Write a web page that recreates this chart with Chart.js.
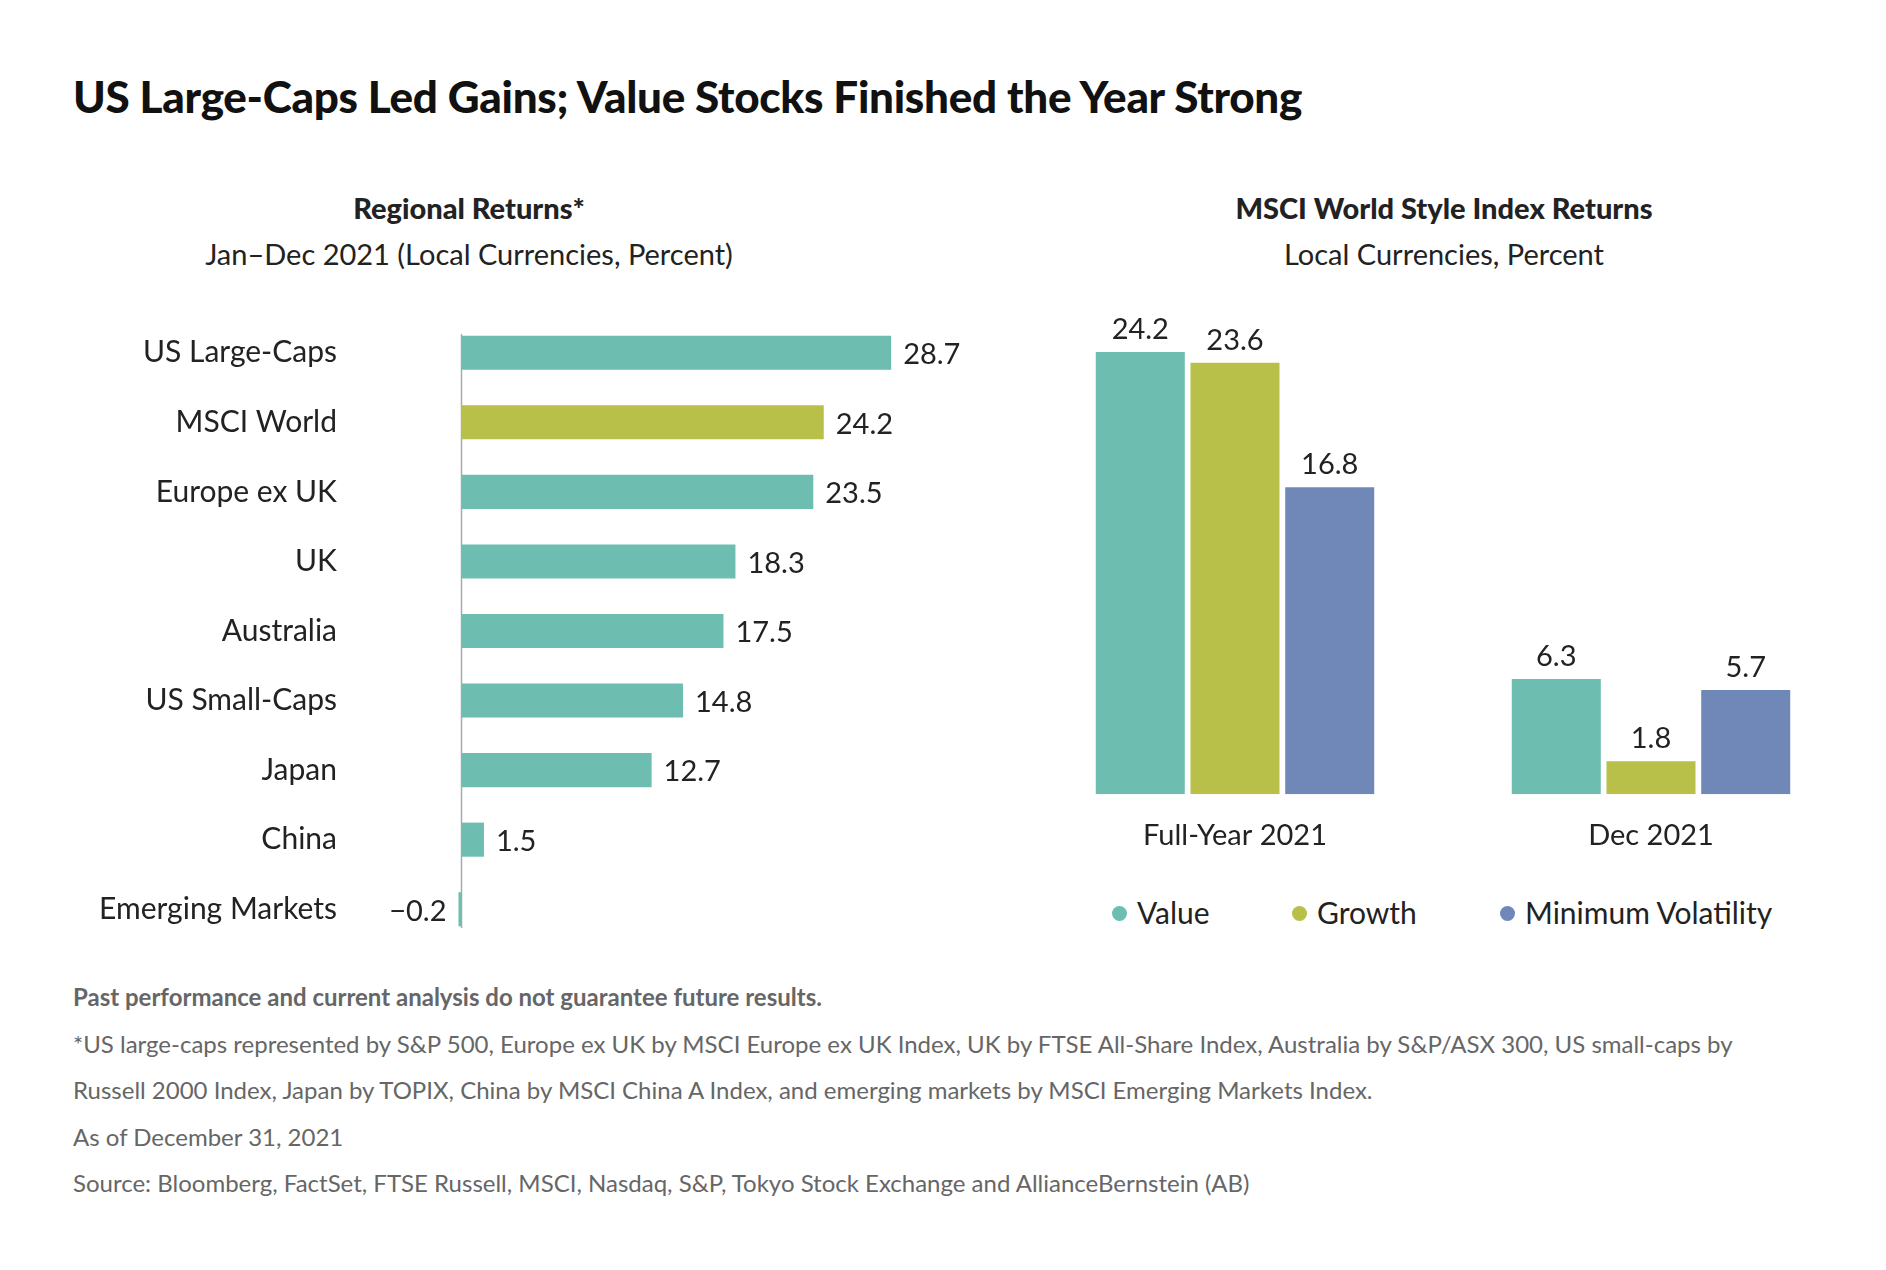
<!DOCTYPE html>
<html>
<head>
<meta charset="utf-8">
<script src="https://cdn.jsdelivr.net/npm/chart.js@4"></script>
<style>
  body { margin: 0; width: 1886px; height: 1270px; background: #fff; font-family: Lato, "Noto Sans", sans-serif; color: #222; position: relative; overflow: hidden; }
  .abs { position: absolute; }
  h1 { position: absolute; left: 73px; top: 70px; margin: 0; font-size: 44px; font-weight: 900; color: #111; letter-spacing: -0.3px; }
  .sub { position: absolute; text-align: center; width: 800px; font-size: 29px; line-height: 46px; }
  .sub b { font-weight: 900; }
  .legend { position: absolute; top: 894px; font-size: 30px; }
  .legend span.dot { display: inline-block; width: 15px; height: 15px; border-radius: 50%; margin-right: 10px; vertical-align: 3px; }
  .foot { position: absolute; left: 73px; top: 974px; font-size: 24px; color: #666; line-height: 46.5px; }
</style>
</head>
<body>
<h1>US Large-Caps Led Gains; Value Stocks Finished the Year Strong</h1>
<div class="sub" style="left:69px; top:185px"><b>Regional Returns*</b><br>Jan–Dec 2021 (Local Currencies, Percent)</div>
<div class="sub" style="left:1044px; top:185px"><b>MSCI World Style Index Returns</b><br>Local Currencies, Percent</div>

<canvas id="left" class="abs" style="left:60px; top:318px" width="900" height="626"></canvas>
<canvas id="right" class="abs" style="left:1027px; top:269px" width="832" height="600"></canvas>

<div class="legend" style="left:1112px"><span class="dot" style="background:#6dbdb0"></span>Value</div>
<div class="legend" style="left:1292px"><span class="dot" style="background:#b8c04a"></span>Growth</div>
<div class="legend" style="left:1500px"><span class="dot" style="background:#7088b8"></span>Minimum Volatility</div>

<div class="foot">
  <b>Past performance and current analysis do not guarantee future results.</b><br>
  *US large-caps represented by S&amp;P 500, Europe ex UK by MSCI Europe ex UK Index, UK by FTSE All-Share Index, Australia by S&amp;P/ASX 300, US small-caps by<br>
  Russell 2000 Index, Japan by TOPIX, China by MSCI China A Index, and emerging markets by MSCI Emerging Markets Index.<br>
  As of December 31, 2021<br>
  Source: Bloomberg, FactSet, FTSE Russell, MSCI, Nasdaq, S&amp;P, Tokyo Stock Exchange and AllianceBernstein (AB)
</div>

<script>
const regions = ['US Large-Caps', 'MSCI World', 'Europe ex UK', 'UK', 'Australia', 'US Small-Caps', 'Japan', 'China', 'Emerging Markets'];
const regionReturns = [28.7, 24.2, 23.5, 18.3, 17.5, 14.8, 12.7, 1.5, -0.2];

const periods = ['Full-Year 2021', 'Dec 2021'];
const valueReturns = [24.2, 6.3];
const growthReturns = [23.6, 1.8];
const minVolReturns = [16.8, 5.7];

const TEAL = '#6dbdb0', GREEN = '#b8c04a', BLUE = '#7088b8';
const FONT = 'Lato, "Noto Sans", sans-serif';

// value labels drawn next to each bar
const valueLabels = {
  id: 'valueLabels',
  afterDatasetsDraw(chart, args, opts) {
    const ctx = chart.ctx;
    ctx.save();
    ctx.font = '29px ' + FONT;
    ctx.fillStyle = '#222';
    chart.data.datasets.forEach((ds, i) => {
      chart.getDatasetMeta(i).data.forEach((bar, j) => {
        const v = ds.data[j];
        const txt = v < 0 ? '\u2212' + Math.abs(v).toFixed(1) : v.toFixed(1);
        if (opts.horizontal) {
          ctx.textBaseline = 'middle';
          if (v < 0) { ctx.textAlign = 'right'; ctx.fillText(txt, bar.x - 12, bar.y + 2); }
          else { ctx.textAlign = 'left'; ctx.fillText(txt, bar.x + 12, bar.y + 2); }
        } else {
          ctx.textAlign = 'center';
          ctx.textBaseline = 'bottom';
          ctx.fillText(txt, bar.x, bar.y - 8);
        }
      });
    });
    ctx.restore();
  }
};

const zeroLine = {
  id: 'zeroLine',
  beforeDatasetsDraw(chart) {
    const x = Math.round(chart.scales.x.getPixelForValue(0)) + 0.5;
    const { top, bottom } = chart.chartArea;
    const ctx = chart.ctx;
    ctx.save();
    ctx.strokeStyle = '#aaa';
    ctx.lineWidth = 1.5;
    ctx.beginPath();
    ctx.moveTo(x, top + 16);
    ctx.lineTo(x, bottom - 16);
    ctx.stroke();
    ctx.restore();
  }
};

new Chart(document.getElementById('left'), {
  type: 'bar',
  data: {
    labels: regions,
    datasets: [{
      data: regionReturns,
      backgroundColor: regions.map(r => r === 'MSCI World' ? GREEN : TEAL),
      barPercentage: 0.49,
      categoryPercentage: 1
    }]
  },
  options: {
    indexAxis: 'y',
    responsive: false,
    animation: false,
    layout: { padding: 0 },
    plugins: { legend: { display: false }, tooltip: { enabled: false }, valueLabels: { horizontal: true } },
    scales: {
      x: { min: -0.5, max: 33.3, display: false },
      y: {
        grid: { display: false },
        border: { display: false },
        ticks: { color: '#222', font: { size: 30, family: FONT }, padding: 109 },
        afterFit(s) { s.width = 394; s.paddingTop = 0; s.paddingBottom = 0; }
      }
    }
  },
  plugins: [zeroLine, valueLabels]
});

new Chart(document.getElementById('right'), {
  type: 'bar',
  data: {
    labels: periods,
    datasets: [
      { label: 'Value', data: valueReturns, backgroundColor: TEAL },
      { label: 'Growth', data: growthReturns, backgroundColor: GREEN },
      { label: 'Minimum Volatility', data: minVolReturns, backgroundColor: BLUE }
    ].map(d => Object.assign(d, { categoryPercentage: 0.683, barPercentage: 0.94 }))
  },
  options: {
    responsive: false,
    animation: false,
    layout: { padding: { top: 50 } },
    plugins: { legend: { display: false }, tooltip: { enabled: false }, valueLabels: { horizontal: false } },
    scales: {
      x: {
        grid: { display: false },
        border: { display: false },
        ticks: { color: '#222', font: { size: 29, family: FONT }, padding: 16 }
      },
      y: { min: 0, max: 26, display: false }
    }
  },
  plugins: [valueLabels]
});
</script>
</body>
</html>
